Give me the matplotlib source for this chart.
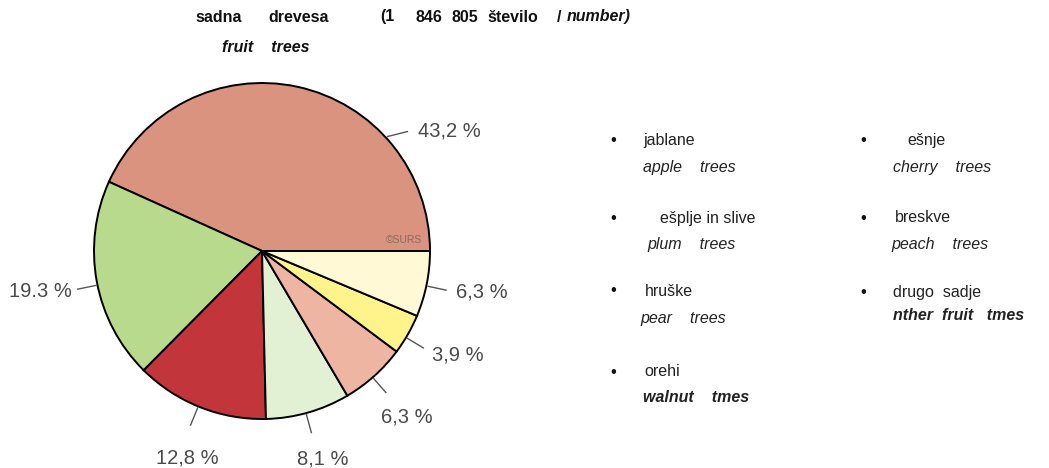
import matplotlib
matplotlib.use("Agg")
import matplotlib.pyplot as plt
from matplotlib.transforms import Bbox, TransformedBbox
import numpy as np

plt.rcParams['font.family'] = ['Liberation Sans', 'DejaVu Sans']

# ---- data ----
shares = [43.2, 19.3, 12.8, 8.1, 6.3, 3.9, 6.3]
share_labels = ["43,2 %", "19.3 %", "12,8 %", "8,1 %", "6,3 %", "3,9 %", "6,3 %"]
slice_colors = ["#D9937F", "#B8DA8C", "#C1353B", "#E2F0D3", "#EDB5A2", "#FFF38C", "#FFFAD5"]

legend_left_si = ["jablane", "ešplje in slive", "hruške", "orehi"]
legend_left_en = ["apple    trees", "plum    trees", "pear    trees", "walnut    tmes"]
legend_right_si = ["ešnje", "breskve", "drugo  sadje"]
legend_right_en = ["cherry    trees", "peach    trees", "nther  fruit   tmes"]

W, H = 1049, 468
fig = plt.figure(figsize=(W / 100, H / 100), dpi=100)
ax = fig.add_axes([0, 0, 1, 1])

cx, cy, R = 262, H - 251, 168
wedges, _ = ax.pie(shares, colors=slice_colors, startangle=0, counterclock=True,
                   center=(cx, cy), radius=R, frame=True,
                   wedgeprops=dict(edgecolor="black", linewidth=1.4))
ax.set_xlim(0, W)
ax.set_ylim(0, H)
ax.set_aspect('equal')
ax.axis('off')

# label placement (style): leader start/end angle, text angle, text distance, alignment
leader_angles = [(42.4, 39.4), (191.7, 191.7), (247.7, 247.7), (285.2, 285.2),
                 (311.2, 311.2), (329, 329), (348, 348)]
text_specs = [(37.7, 1.17, 'left'), (192, 1.16, 'right'), (250.2, 1.31, 'center'),
              (286.4, 1.29, 'center'), (311, 1.31, 'center'), (328.5, 1.19, 'left'),
              (348, 1.18, 'left')]
clip = TransformedBbox(Bbox.from_extents(0, 0, 525, H), ax.transData)
for lab, (a0, a1), (ta, td, ha) in zip(share_labels, leader_angles, text_specs):
    a0, a1 = np.deg2rad(a0), np.deg2rad(a1)
    ax.plot([cx + 1.01 * R * np.cos(a0), cx + 1.12 * R * np.cos(a1)],
            [cy + 1.01 * R * np.sin(a0), cy + 1.12 * R * np.sin(a1)],
            color="#555555", lw=1.0, clip_on=False)
    t = np.deg2rad(ta)
    txt = ax.text(cx + td * R * np.cos(t), cy + td * R * np.sin(t), lab,
                  ha=ha, va='center', fontsize=14.5, color="#4a4a4a")
    txt.set_clip_box(clip)
    txt.set_clip_on(True)

ax.text(422, H - 240, "©SURS", ha='right', va='center', fontsize=7.5, color="#8a6a60")

# title (word positions)
title_words = [("sadna", 195, 'normal'), ("drevesa", 268, 'normal'), ("(1", 380, 'normal'),
               ("846", 415, 'normal'), ("805", 452, 'normal'), ("število", 487, 'normal'),
               ("/", 557, 'normal'), ("number)", 567, 'italic')]
for w, x, st in title_words:
    fig.text(x / W, 1 - 17 / H, w, ha='left', va='center', fontsize=11.5,
             fontweight='bold', style=st, color="#111111")
fig.text(222 / W, 1 - 47 / H, "fruit    trees", ha='left', va='center', fontsize=11.5,
         fontweight='bold', style='italic', color="#111111")

# legend text
left_y = [(141, 167), (218, 245), (291, 318), (372, 398)]
left_x = [(643, 643), (660, 647), (645, 640), (644, 643)]
left_bold = [False, False, False, True]
for si, en, (y1, y2), (x1, x2), b in zip(legend_left_si, legend_left_en, left_y, left_x, left_bold):
    fig.text(613 / W, 1 - y1 / H, "•", ha='center', va='center', fontsize=12, color="#111111")
    fig.text(x1 / W, 1 - y1 / H, si, ha='left', va='center', fontsize=11.5, color="#222222")
    fig.text(x2 / W, 1 - y2 / H, en, ha='left', va='center', fontsize=11.5, style='italic',
             fontweight='bold' if b else 'normal', color="#222222")

right_y = [(141, 167), (218, 244), (292, 315)]
right_x = [(907, 893), (895, 891), (893, 893)]
right_bold = [False, False, True]
for si, en, (y1, y2), (x1, x2), b in zip(legend_right_si, legend_right_en, right_y, right_x, right_bold):
    fig.text(863 / W, 1 - y1 / H, "•", ha='center', va='center', fontsize=12, color="#111111")
    fig.text(x1 / W, 1 - y1 / H, si, ha='left', va='center', fontsize=11.5, color="#222222")
    fig.text(x2 / W, 1 - y2 / H, en, ha='left', va='center', fontsize=11.5, style='italic',
             fontweight='bold' if b else 'normal', color="#222222")

fig.savefig("out.png", dpi=100, facecolor="white")
